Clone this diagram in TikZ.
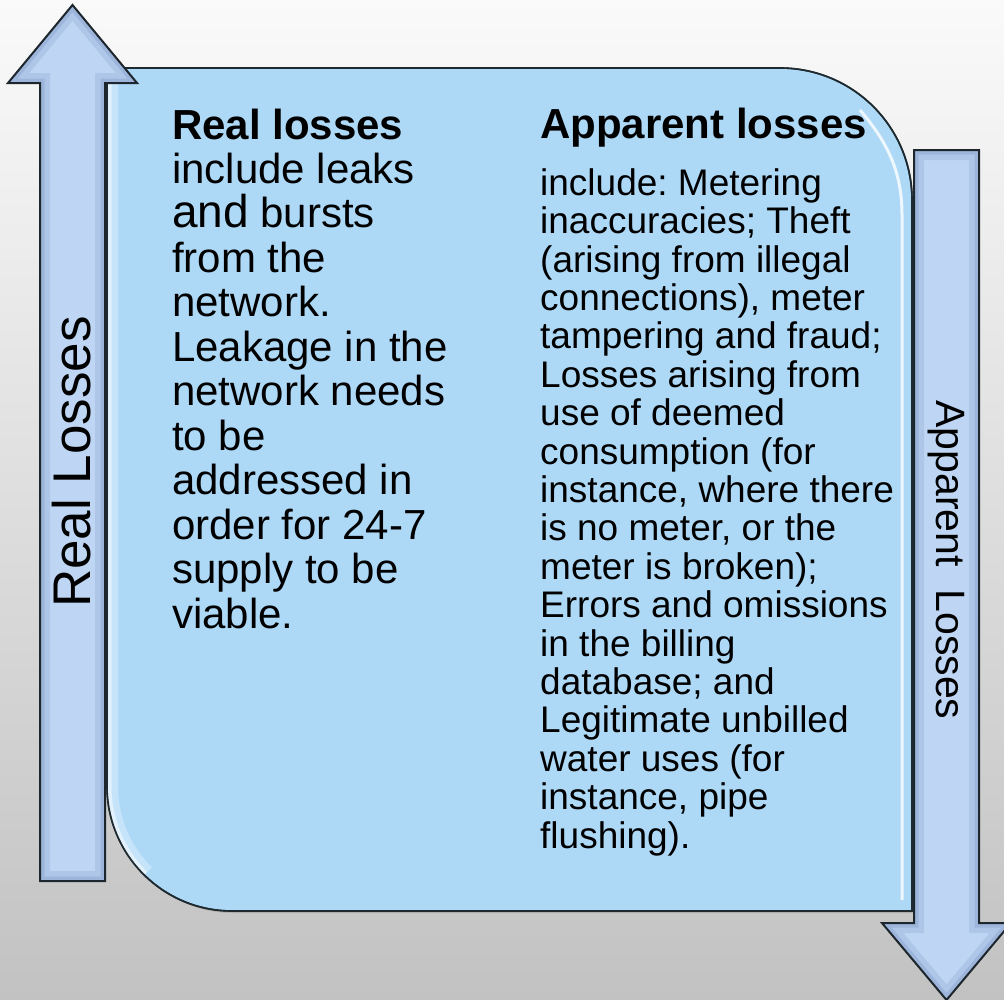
\documentclass[tikz,border=0pt]{standalone}
\usepackage{fontspec}
\setmainfont{Liberation Sans}
\usetikzlibrary{shadows}
\frenchspacing

\definecolor{bgtop}{HTML}{FAFAFA}
\definecolor{bgmid}{HTML}{E2E2E2}
\definecolor{bgbot}{HTML}{C2C2C2}
\definecolor{panelfill}{HTML}{ADD9F7}
\definecolor{panelline}{HTML}{1E2A30}
\definecolor{arrowfill}{HTML}{BED6F3}
\definecolor{arrowedge}{HTML}{7890BE}
\definecolor{arrowline}{HTML}{1C262C}

% outlines of the panel and of the two arrows
\newcommand\panelpath{(107,68) -- (780,68) .. controls (853,68) and (912,127) .. (912,200) -- (912,911) -- (232,911) .. controls (163,911) and (107,855) .. (107,786) -- cycle}
\newcommand\uparrowpath{(40,881) -- (40,83) -- (8,83) -- (72.5,5) -- (137,83) -- (105,83) -- (105,881) -- cycle}
\newcommand\downarrowpath{(914,150) -- (979,150) -- (979,923) -- (1011,923) -- (946.5,1000) -- (882,923) -- (914,923) -- cycle}

\tikzset{
  panel/.style={fill=panelfill, draw=panelline, line width=1.6pt,
    drop shadow={opacity=0.35, shadow xshift=1.5pt, shadow yshift=-2pt}},
  arrowbody/.style={fill=arrowfill},
  arrowrim/.style={draw=arrowline, line width=2pt, line join=miter},
  bodytext/.style={anchor=base west, align=left, inner sep=0pt, text=black},
  sidelabel/.style={inner sep=0pt, text=black},
}

\begin{document}
\begin{tikzpicture}[x=1pt, y=-1pt]
  \useasboundingbox (0,0) rectangle (1004,999);
  \clip (0,0) rectangle (1004,999);

  % backdrop
  \shade[top color=bgtop, middle color=bgmid, bottom color=bgbot] (0,0) rectangle (1004,999);

  % panel
  \path[panel] \panelpath;
  \begin{scope}
    \clip \panelpath;
    \draw[white, line width=22pt, opacity=0.3] (107,70) -- (107,786) .. controls (107,821) and (121,852) .. (144,875);
    \draw[white, line width=9pt, opacity=0.5] (107,70) -- (107,786) .. controls (107,821) and (121,852) .. (144,875);
    \draw[white, line width=3pt, opacity=0.8] (860,110) .. controls (890,145) and (902,175) .. (902,215) -- (902,900);
  \end{scope}
  \draw[panelline, line width=1.6pt] \panelpath;

  % left arrow, pointing up
  \path[arrowbody] \uparrowpath;
  \begin{scope}
    \clip \uparrowpath;
    \draw[arrowedge, line width=20pt, opacity=0.22] \uparrowpath;
    \draw[arrowedge, line width=9pt, opacity=0.3] \uparrowpath;
  \end{scope}
  \draw[arrowrim] \uparrowpath;

  % right arrow, pointing down
  \path[arrowbody] \downarrowpath;
  \begin{scope}
    \clip \downarrowpath;
    \draw[arrowedge, line width=20pt, opacity=0.22] \downarrowpath;
    \draw[arrowedge, line width=9pt, opacity=0.3] \downarrowpath;
  \end{scope}
  \draw[arrowrim] \downarrowpath;

  % arrow labels
  \node[sidelabel, rotate=90, font=\fontsize{53}{60}\selectfont] (reallabel) at (72,462) {Real Losses};
  \node[sidelabel, rotate=-90, font=\fontsize{41}{48}\selectfont] (apparentlabel) at (946,560) {Apparent\ \ Losses};

  % panel texts (anchored at the baseline of their last line)
  \node[bodytext, font=\fontsize{42}{44.45}\selectfont] (realtext) at (172,628)
    {\textbf{Real losses}\\
     include leaks\\
     {\fontsize{46}{44.45}\selectfont and} bursts\\
     from the\\
     network.\\
     Leakage in the\\
     network needs\\
     to be\\
     addressed in\\
     order for 24-7\\
     supply to be\\
     viable.};

  \node[bodytext, font=\fontsize{42}{48}\selectfont\bfseries] (apparenthead) at (540,138) {Apparent losses};

  \node[bodytext, font=\fontsize{37}{38.4}\selectfont] (apparenttext) at (540,848)
    {include: Metering\\
     inaccuracies; Theft\\
     (arising from illegal\\
     connections), meter\\
     tampering and fraud;\\
     Losses arising from\\
     use of deemed\\
     consumption (for\\
     instance, where there\\
     is no meter, or the\\
     meter is broken);\\
     Errors and omissions\\
     in the billing\\
     database; and\\
     Legitimate unbilled\\
     water uses (for\\
     instance, pipe\\
     flushing).};
\end{tikzpicture}
\end{document}
